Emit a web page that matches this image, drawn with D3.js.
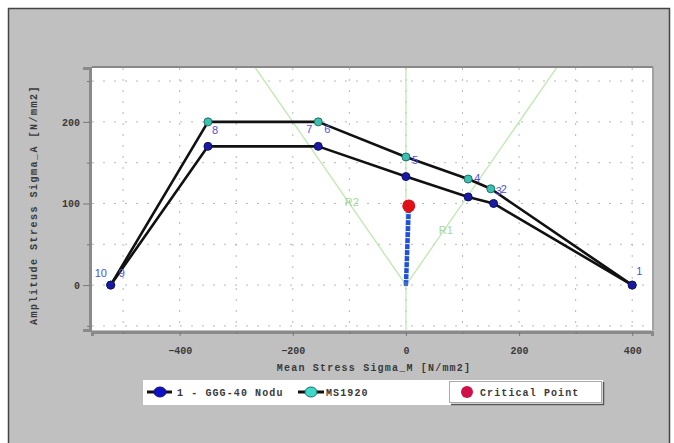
<!DOCTYPE html>
<html>
<head>
<meta charset="utf-8">
<script src="https://cdn.jsdelivr.net/npm/d3@7"></script>
<style>
  body { margin: 0; background: #fff; }
  svg text { font-family: "Liberation Mono", "DejaVu Sans Mono", monospace; }
</style>
</head>
<body>
<svg id="chart"></svg>
<script>
// Haigh diagram data (mean stress, amplitude stress)
const gggX = [-522, -350, -155, 0, 110, 155, 400];
const gggY = [0, 170, 170, 133, 108, 100, 0];
const msX = [-522, -350, -155, 0, 110, 150, 400];
const msY = [0, 200, 200, 157, 130, 118, 0];
const loadX = [0, 5];
const loadY = [0, 95];
const critical = [5, 97];
const guideR1 = [[0, 0], [275, 275]];
const guideR2 = [[0, 0], [-275, 275]];
const xTicks = [-400, -200, 0, 200, 400];
const yTicks = [0, 100, 200];
const ptLabels = [
  {t: "10", x: -522, y: 0}, {t: "9", x: -522, y: 0},
  {t: "8", x: -350, y: 200}, {t: "7", x: -155, y: 200}, {t: "6", x: -155, y: 200},
  {t: "5", x: 0, y: 157}, {t: "4", x: 110, y: 130}, {t: "3", x: 150, y: 118},
  {t: "2", x: 150, y: 118}, {t: "1", x: 400, y: 0}
];
const legendNames = ["1 - GGG-40 Nodu", "MS1920", "Critical Point"];

const width = 674, height = 443;
const svg = d3.select('#chart').attr('width', width).attr('height', height);

// gray panel
svg.append('rect').attr('x', 8.5).attr('y', 8.5).attr('width', 661).attr('height', 440)
  .attr('fill', '#c0c0c0').attr('stroke', '#444').attr('stroke-width', 1.5);

const pL = 92, pR = 652, pT = 68, pB = 330;
const x = d3.scaleLinear().domain([-555, 435]).range([pL, pR]);
const y = d3.scaleLinear().domain([-55, 266]).range([pB, pT]);

// plot background
svg.append('rect').attr('x', pL).attr('y', pT).attr('width', pR - pL).attr('height', pB - pT)
  .attr('fill', '#fff');
svg.append('line').attr('x1', pL).attr('x2', pR + 1).attr('y1', pT - 1).attr('y2', pT - 1)
  .attr('stroke', '#888').attr('stroke-width', 2);
svg.append('line').attr('x1', pR + 1).attr('x2', pR + 1).attr('y1', pT - 1).attr('y2', pB)
  .attr('stroke', '#999').attr('stroke-width', 1.5);

const g = svg.append('g');
const defs = svg.append('defs');
defs.append('clipPath').attr('id', 'clip').append('rect')
  .attr('x', pL).attr('y', pT).attr('width', pR - pL).attr('height', pB - pT);

// dotted grid
const grid = g.append('g').attr('stroke', '#b8b8b8').attr('stroke-dasharray', '2,9');
grid.selectAll('.gx').data(d3.range(-500, 401, 100)).enter().append('line')
  .attr('x1', d => x(d)).attr('x2', d => x(d)).attr('y1', pT).attr('y2', pB);
grid.selectAll('.gy').data(d3.range(-50, 251, 50)).enter().append('line')
  .attr('y1', d => y(d)).attr('y2', d => y(d)).attr('x1', pL).attr('x2', pR);

const plot = g.append('g').attr('clip-path', 'url(#clip)');

// green guide lines
const line = d3.line().x(d => x(d[0])).y(d => y(d[1]));
plot.append('line').attr('x1', x(0)).attr('x2', x(0)).attr('y1', pT).attr('y2', pB)
  .attr('stroke', '#b8e8a8').attr('stroke-width', 1.2);
[guideR1, guideR2].forEach(gl => {
  plot.append('path').attr('d', line(gl)).attr('fill', 'none')
    .attr('stroke', '#b8e8a8').attr('stroke-width', 1.2);
});
plot.append('text').attr('x', x(-108)).attr('y', y(97)).text('R2')
  .attr('fill', '#a8d898').style('font-family', 'Liberation Sans, sans-serif').attr('font-size', 11);
plot.append('text').attr('x', x(58)).attr('y', y(63)).text('R1')
  .attr('fill', '#a8d898').style('font-family', 'Liberation Sans, sans-serif').attr('font-size', 11);

// series lines
const series = [
  {xs: msX, ys: msY, fill: '#3cc0b0', stroke: '#1f6f6a', r: 4},
  {xs: gggX, ys: gggY, fill: '#1a1aa0', stroke: '#10106a', r: 4}
];
series.forEach(s => {
  const pts = s.xs.map((v, i) => [v, s.ys[i]]);
  plot.append('path').attr('d', line(pts)).attr('fill', 'none')
    .attr('stroke', '#111').attr('stroke-width', 2.6).attr('stroke-linejoin', 'round');
  plot.selectAll(null).data(pts).enter().append('circle')
    .attr('cx', d => x(d[0])).attr('cy', d => y(d[1])).attr('r', s.r)
    .attr('fill', s.fill).attr('stroke', s.stroke).attr('stroke-width', 1);
});

// load path and critical point
const lp = loadX.map((v, i) => [v, loadY[i]]);
plot.append('path').attr('d', line(lp)).attr('stroke', '#2050e0').attr('stroke-width', 4.5)
  .attr('stroke-dasharray', '5,1');
plot.append('rect').attr('x', x(0) - 2).attr('y', y(0) - 3).attr('width', 4).attr('height', 4)
  .attr('fill', '#4070c0');
plot.append('circle').attr('cx', x(critical[0])).attr('cy', y(critical[1])).attr('r', 6.5)
  .attr('fill', '#e01018');

// point number labels
const lblOff = [[-16, -8], [8, -8], [4, 12], [-12, 11], [6, 11], [6, 7], [6, 3], [5, 6], [10, 4], [4, -10]];
plot.selectAll('.pl').data(ptLabels).enter().append('text')
  .attr('x', (d, i) => x(d.x) + lblOff[i][0]).attr('y', (d, i) => y(d.y) + lblOff[i][1])
  .text(d => d.t).attr('fill', '#5050d8').attr('font-size', 11)
  .style('font-family', 'Liberation Sans, sans-serif');

// axes
const xAxis = g.append('g').attr('transform', `translate(0,${pB + 2})`)
  .call(d3.axisBottom(x).tickValues(xTicks).tickSize(4).tickFormat(d3.format('d')));
g.append('g').attr('transform', `translate(0,${pB + 2})`)
  .call(d3.axisBottom(x).tickValues([-500, -300, -100, 100, 300]).tickSize(2).tickFormat(''))
  .select('.domain').remove();
const yAxis = g.append('g').attr('transform', `translate(${pL - 2},0)`)
  .call(d3.axisLeft(y).tickValues(yTicks).tickSize(7).tickFormat(d3.format('d')));
g.append('g').attr('transform', `translate(${pL - 2},0)`)
  .call(d3.axisLeft(y).tickValues([-50, 50, 150, 250]).tickSize(3).tickFormat(''))
  .select('.domain').remove();
[xAxis, yAxis].forEach(a => {
  a.select('.domain').attr('stroke', '#8a8a8a').attr('stroke-width', 3);
  a.selectAll('text').attr('fill', '#3a3a3a').attr('font-size', 10).attr('font-weight', 'bold')
    .style('font-family', 'Liberation Mono, monospace');
});
g.selectAll('.tick line').attr('stroke', '#777');
xAxis.selectAll('text').attr('dy', '1.5em');

// axis titles
svg.append('text').attr('x', (pL + pR) / 2 + 2).attr('y', 371).attr('text-anchor', 'middle')
  .text('Mean Stress Sigma_M [N/mm2]').attr('font-size', 10).attr('font-weight', 'bold')
  .attr('letter-spacing', 1.2).attr('fill', '#3a3a3a');
svg.append('text').attr('transform', `translate(37,${(pT + pB) / 2 + 6}) rotate(-90)`)
  .attr('text-anchor', 'middle').text('Amplitude Stress Sigma_A [N/mm2]')
  .attr('font-size', 10).attr('font-weight', 'bold').attr('letter-spacing', 1.5).attr('fill', '#3a3a3a');

// legend
const lg = svg.append('g');
lg.append('rect').attr('x', 143).attr('y', 380).attr('width', 460).attr('height', 25).attr('fill', '#fff');
const legendItems = [
  {x0: 147, x1: 172, cx: 160, tx: 177, fill: '#1010c8', stroke: '#10106a'},
  {x0: 298, x1: 324, cx: 311, tx: 326, fill: '#3cd8c8', stroke: '#1f6f6a'}
];
legendItems.forEach((it, i) => {
  lg.append('line').attr('x1', it.x0).attr('x2', it.x1).attr('y1', 392).attr('y2', 392)
    .attr('stroke', '#111').attr('stroke-width', 3);
  lg.append('ellipse').attr('cx', it.cx).attr('cy', 392).attr('rx', 6).attr('ry', 5)
    .attr('fill', it.fill).attr('stroke', it.stroke);
  lg.append('text').attr('x', it.tx).attr('y', 396).text(legendNames[i])
    .attr('font-size', 10).attr('font-weight', 'bold').attr('letter-spacing', 1.1).attr('fill', '#3a3a3a');
});
lg.append('rect').attr('x', 449.5).attr('y', 381.5).attr('width', 152).attr('height', 21)
  .attr('fill', '#fff').attr('stroke', '#aaa');
lg.append('path').attr('d', 'M451,404.5H603.5V382').attr('fill', 'none').attr('stroke', '#555').attr('stroke-width', 1.5);
lg.append('circle').attr('cx', 467).attr('cy', 392).attr('r', 6).attr('fill', '#d01048');
lg.append('text').attr('x', 480).attr('y', 396).text(legendNames[2])
  .attr('font-size', 10).attr('font-weight', 'bold').attr('letter-spacing', 1.1).attr('fill', '#3a3a3a');
</script>
</body>
</html>
